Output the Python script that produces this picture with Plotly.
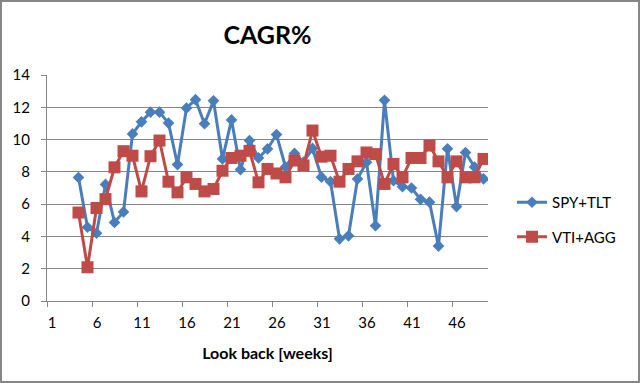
import plotly.graph_objects as go

weeks = list(range(4, 50))
spy_tlt = [7.65, 4.57, 4.2, 7.22, 4.87, 5.52, 10.35, 11.1, 11.7, 11.7, 11.02, 8.45,
           11.95, 12.47, 10.98, 12.4, 8.8, 11.22, 8.14, 9.94, 8.86, 9.42, 10.31, 8.3,
           9.14, 8.6, 9.45, 7.67, 7.4, 3.85, 4.04, 7.56, 8.59, 4.66, 12.43, 7.45,
           7.08, 7.0, 6.3, 6.12, 3.4, 9.43, 5.85, 9.2, 8.3, 7.57]
vti_agg = [5.48, 2.09, 5.76, 6.31, 8.28, 9.28, 9.0, 6.79, 8.97, 9.94, 7.39, 6.73,
           7.66, 7.25, 6.79, 6.94, 8.07, 8.86, 9.0, 9.3, 7.35, 8.18, 7.9, 7.66,
           8.7, 8.4, 10.56, 8.94, 9.0, 7.39, 8.18, 8.65, 9.2, 9.1, 7.25, 8.49,
           7.66, 8.86, 8.86, 9.63, 8.65, 7.66, 8.65, 7.66, 7.66, 8.8]
x_tick_labels = ["1", "6", "11", "16", "21", "26", "31", "36", "41", "46"]
x_tick_pos = [0.5, 5.5, 10.5, 15.5, 20.5, 25.5, 30.5, 35.5, 40.5, 45.5]
y_ticks = [0, 2, 4, 6, 8, 10, 12, 14]

FONT = "Lato"
W, H = 640, 383
ML, MR, MT, MB = 47, 152, 75, 82
PW, PH = W - ML - MR, H - MT - MB

fig = go.Figure()
fig.add_trace(go.Scatter(
    x=weeks, y=spy_tlt, name="SPY+TLT", mode="lines+markers",
    line=dict(color="#4A7EBB", width=3),
    marker=dict(symbol="diamond", size=9, color="#4A7EBB"),
    legendgroup="a"))
fig.add_trace(go.Scatter(
    x=weeks, y=vti_agg, name="VTI+AGG", mode="lines+markers",
    line=dict(color="#BE4B48", width=3),
    marker=dict(symbol="square", size=12, color="#BE4B48"),
    legendgroup="b"))

fig.update_layout(
    width=W, height=H,
    margin=dict(l=ML, r=MR, t=MT, b=MB),
    paper_bgcolor="white", plot_bgcolor="white",
    font=dict(family=FONT, size=15, color="black"),
    title=dict(text="<b>CAGR%</b>", x=0.5, xref="paper", y=1 - 35 / H, yanchor="middle",
               font=dict(family=FONT, size=25, color="black")),
    xaxis=dict(range=[0.5, 49.5], tickvals=x_tick_pos, ticktext=x_tick_labels,
               ticklabelshift=5, ticklabelstandoff=3, ticks="outside", ticklen=5,
               tickcolor="#868686", automargin=False,
               showgrid=False, zeroline=False, showline=True, linecolor="#868686",
               linewidth=1, tickfont=dict(family=FONT, size=15),
               title=dict(text="<b>Look back [weeks]</b>", font=dict(family=FONT, size=16),
                          standoff=17)),
    yaxis=dict(range=[0, 14], tickvals=y_ticks, ticks="outside", ticklen=5,
               tickcolor="#868686", showgrid=True, gridcolor="#868686", gridwidth=1,
               zeroline=False, showline=True, linecolor="#868686", linewidth=1,
               ticklabelstandoff=8,
               automargin=False, tickfont=dict(family=FONT, size=15)),
    legend=dict(x=(512 - ML) / PW, y=1 - (186 - MT) / PH, xanchor="left", yanchor="top",
                font=dict(family=FONT, size=15), traceorder="grouped",
                tracegroupgap=12, bgcolor="rgba(0,0,0,0)"),
    shapes=[dict(type="rect", xref="paper", yref="paper",
                 x0=-(ML - 1) / PW, x1=(W - ML - 1) / PW,
                 y0=-(MB - 1) / PH, y1=(H - MB - 1) / PH,
                 line=dict(color="#868686", width=2))],
)

fig.write_html("out.html", config={"displayModeBar": False},
               post_script="document.body.style.margin='0';document.body.style.overflow='hidden';")
